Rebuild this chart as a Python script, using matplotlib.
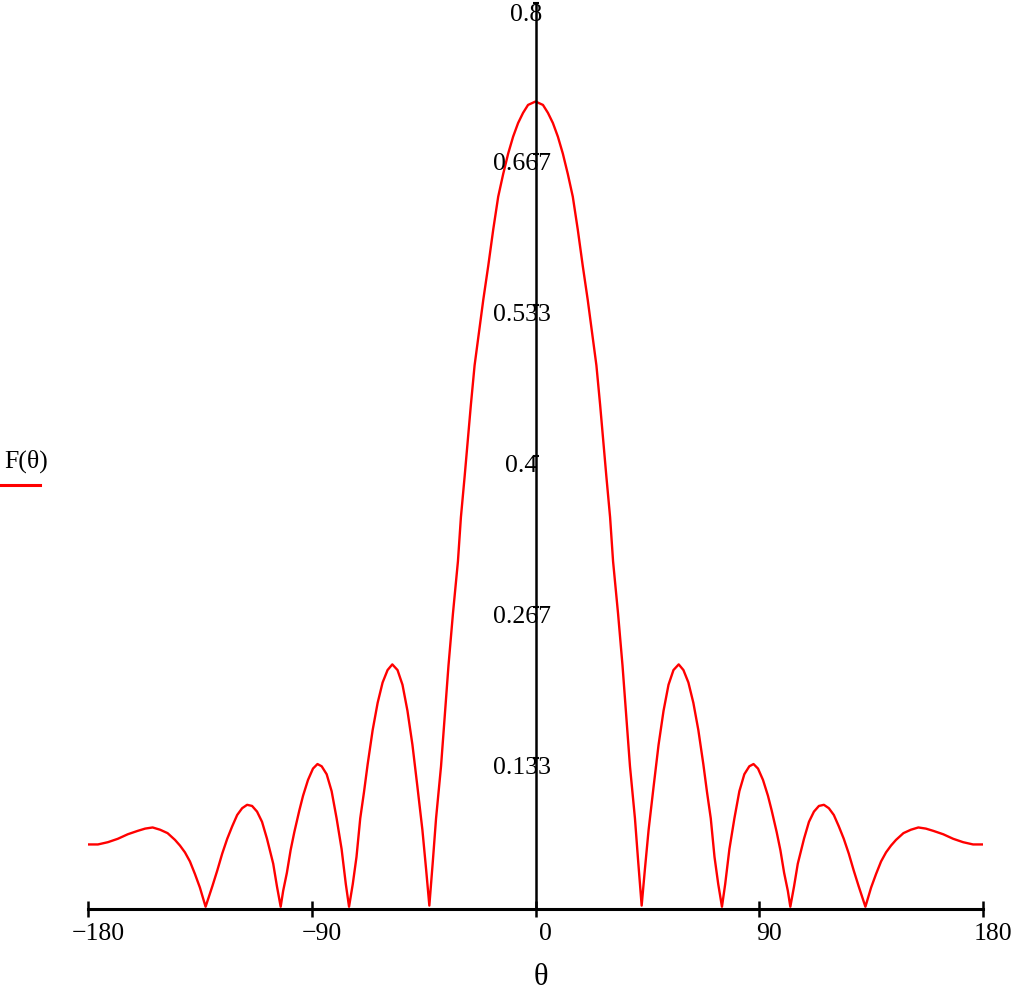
import matplotlib
matplotlib.use("Agg")
from matplotlib import pyplot as plt
from matplotlib.transforms import ScaledTranslation
from matplotlib.lines import Line2D


# pattern (degrees, F)
theta_deg = [
    -180, -176, -172, -168, -164, -160, -157, -154, -151, -148, -145, -143,
    -141, -139, -137, -135, -132.7, -131.5, -130, -128, -126, -124, -122,
    -120, -118, -116, -114, -112, -110, -108, -105.5, -104, -102.5, -101.5,
    -100, -98.5, -97, -95, -93.5, -91.5, -89.5, -87.7, -86, -84, -82, -80,
    -78, -76.3, -75, -73.5, -72, -70.5, -69, -67.5, -65.5, -63.5, -61.5,
    -59.5, -57.6, -55.5, -53.5, -51.5, -49.5, -47.5, -45.5, -44, -42.7,
    -41.3, -40, -38, -36.5, -35, -33.2, -31.2, -30, -28.5, -26, -24.5,
    -22.5, -21, -19, -17, -15, -13, -11, -9, -7, -5, -3,
    0,
    3, 5, 7, 9, 11, 13, 15, 17, 19, 21, 22.5, 24.5, 26, 28.5, 30, 31.2,
    33.2, 35, 36.5, 38, 40, 41.3, 42.7, 44, 45.5, 47.5, 49.5, 51.5, 53.5,
    55.5, 57.6, 59.5, 61.5, 63.5, 65.5, 67.5, 69, 70.5, 72, 73.5, 75, 76.3,
    78, 80, 82, 84, 86, 87.7, 89.5, 91.5, 93.5, 95, 97, 98.5, 100, 101.5,
    102.5, 104, 105.5, 108, 110, 112, 114, 116, 118, 120, 122, 124, 126,
    128, 130, 131.5, 132.7, 135, 137, 139, 141, 143, 145, 148, 151, 154,
    157, 160, 164, 168, 172, 176, 180,
]
F_theta = [
    0.057, 0.057, 0.059, 0.062, 0.066, 0.069, 0.071, 0.072, 0.070, 0.067,
    0.061, 0.056, 0.050, 0.042, 0.031, 0.019, 0.002, 0.010, 0.020, 0.034,
    0.049, 0.062, 0.073, 0.083, 0.089, 0.092, 0.091, 0.086, 0.077, 0.062,
    0.040, 0.020, 0.002, 0.016, 0.032, 0.052, 0.068, 0.087, 0.100, 0.114,
    0.124, 0.128, 0.126, 0.119, 0.104, 0.080, 0.053, 0.022, 0.002, 0.022,
    0.046, 0.080, 0.103, 0.128, 0.158, 0.182, 0.200, 0.211, 0.216, 0.211,
    0.198, 0.175, 0.145, 0.108, 0.070, 0.035, 0.003, 0.042, 0.080, 0.126,
    0.170, 0.215, 0.261, 0.307, 0.346, 0.382, 0.445, 0.480, 0.513, 0.538,
    0.568, 0.600, 0.629, 0.649, 0.667, 0.682, 0.694, 0.703, 0.710,
    0.713,
    0.710, 0.703, 0.694, 0.682, 0.667, 0.649, 0.629, 0.600, 0.568, 0.538,
    0.513, 0.480, 0.445, 0.382, 0.346, 0.307, 0.261, 0.215, 0.170, 0.126,
    0.080, 0.042, 0.003, 0.035, 0.070, 0.108, 0.145, 0.175, 0.198, 0.211,
    0.216, 0.211, 0.200, 0.182, 0.158, 0.128, 0.103, 0.080, 0.046, 0.022,
    0.002, 0.022, 0.053, 0.080, 0.104, 0.119, 0.126, 0.128, 0.124, 0.114,
    0.100, 0.087, 0.068, 0.052, 0.032, 0.016, 0.002, 0.020, 0.040, 0.062,
    0.077, 0.086, 0.091, 0.092, 0.089, 0.083, 0.073, 0.062, 0.049, 0.034,
    0.020, 0.010, 0.002, 0.019, 0.031, 0.042, 0.050, 0.056, 0.061, 0.067,
    0.070, 0.072, 0.071, 0.069, 0.066, 0.062, 0.059, 0.057, 0.057,
]

x_ticks = [-180, -90, 0, 90, 180]
x_ticklabels = ["\u2212180", "\u221290", "0", "90", "180"]
y_ticks = [0.8 * k / 6 for k in range(1, 7)]
y_ticklabels = ["0.133", "0.267", "0.4", "0.533", "0.667", "0.8"]

plt.rcParams["font.family"] = ["Liberation Serif", "DejaVu Serif"]
FS = 18.5

fig = plt.figure(figsize=(10.14, 9.96), dpi=100)
ax = fig.add_axes([88 / 1014, 87 / 996, 895 / 1014, 906 / 996])

ax.plot(theta_deg, F_theta, color="#ff0000", lw=1.7)

ax.set_xlim(-180, 180)
ax.set_ylim(0, 0.8)

# mathcad style crossed axes
for s in ["top", "right"]:
    ax.spines[s].set_visible(False)
ax.spines["left"].set_position(("data", 0))
ax.spines["bottom"].set_position(("data", 0))
ax.spines["left"].set_linewidth(1.8)
ax.spines["bottom"].set_linewidth(2.2)

ax.set_xticks(x_ticks)
ax.set_xticklabels(x_ticklabels, fontsize=FS)
ax.tick_params(axis="x", direction="inout", length=12, width=1.8, pad=4)
shift = ScaledTranslation(10 / 100, 0, fig.dpi_scale_trans)
for lab in ax.get_xticklabels():
    lab.set_transform(lab.get_transform() + shift)

ax.set_yticks(y_ticks)
ax.set_yticklabels([])
ax.tick_params(axis="y", direction="inout", length=4, width=1.5)
for v, txt in zip(y_ticks, y_ticklabels):
    off = ScaledTranslation(-14 / 100, -10 / 100, fig.dpi_scale_trans)
    if txt == "0.8":
        off = ScaledTranslation(-9 / 100, -12 / 100, fig.dpi_scale_trans)
    ax.text(0, v, txt, fontsize=FS, ha="center", va="center",
            transform=ax.transData + off, zorder=5)

# axis label
fig.text(541 / 1014, 1 - 977 / 996, "\u03b8", fontsize=22, ha="center", va="center")

# legend in the left margin
fig.text(4 / 1014, 1 - 461 / 996, "F(\u03b8)", fontsize=FS, ha="left", va="center")
fig.add_artist(Line2D([0, 40 / 1014], [1 - 485 / 996, 1 - 485 / 996],
                      color="#ff0000", lw=2.2, transform=fig.transFigure))

fig.savefig("out.png", dpi=100)
